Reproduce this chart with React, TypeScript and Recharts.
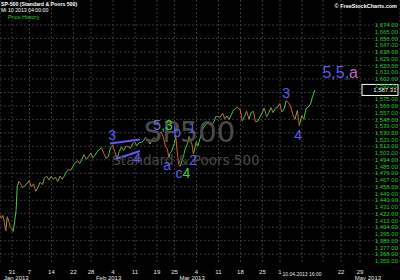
import React from 'react';
import { LineChart, Line, XAxis, YAxis, CartesianGrid, ReferenceDot, ReferenceLine } from 'recharts';

// trading-session index (0 = 26 Dec 2012), with intraday fractions
const times = [
  0.3, 0.6, 0.95, 1.3, 1.6, 1.95, 2.3, 2.6, 2.95, 3.3, 3.7, 3.95,
  4.2, 4.6, 4.95, 5.4, 5.95, 6.4, 6.95, 7.4, 7.95, 8.4, 8.95, 9.4, 9.95,
  10.4, 10.95, 11.4, 11.95, 12.4, 12.95, 13.4, 13.95, 14.4, 14.95,
  15.4, 15.95, 16.4, 16.95, 17.4, 17.95, 18.4, 18.95, 19.4, 19.95,
  20.4, 20.95, 21.4, 21.95, 22.4, 22.95, 23.4, 23.95, 24.4, 24.95,
  25.4, 25.95, 26.4, 26.95, 27.4, 27.95, 28.4, 28.95, 29.4, 29.95,
  30.4, 30.95, 31.4, 31.95, 32.4, 32.95, 33.4, 33.95, 34.4, 34.95,
  35.4, 35.95, 36.4, 36.95, 37.4, 37.95, 38.4, 38.7, 38.95, 39.3, 39.95,
  40.3, 40.6, 40.95, 41.3, 41.95, 42.4, 42.95, 43.3, 43.95, 44.3, 44.95,
  45.3, 45.95, 46.4, 46.95, 47.4, 47.95, 48.4, 48.95, 49.4, 49.95,
  50.4, 50.95, 51.4, 51.95, 52.4, 52.95, 53.4, 53.95, 54.4, 54.95,
  55.4, 55.95, 56.4, 56.95, 57.4, 57.95, 58.4, 58.95, 59.4, 59.95,
  60.4, 60.95, 61.4, 61.95, 62.4, 62.95, 63.4, 63.95, 64.4, 64.95,
  65.4, 65.95, 66.4, 66.95, 67.4, 67.95, 68.4, 68.95, 69.4, 69.95,
  70.4, 70.95, 71.4, 71.95,
];
const prices = [
  1420, 1416, 1419.8, 1410, 1399, 1418.1, 1412, 1405, 1402.4, 1398.5, 1415, 1426.2,
  1458, 1465, 1462.4, 1457, 1459.4, 1462, 1466.5, 1458, 1461.9, 1452, 1457.2, 1464, 1461,
  1470, 1472.1, 1467, 1472, 1468, 1470.7, 1465, 1472.3, 1468, 1472.6,
  1478, 1480.9, 1480, 1486, 1490, 1492.6, 1489, 1494.8, 1501, 1494.8,
  1498, 1503, 1497, 1500.2, 1505, 1507.8, 1510, 1502, 1496, 1498.1,
  1510, 1513.2, 1505, 1495.7, 1505, 1511.3, 1506, 1512.1, 1512, 1509.4,
  1515, 1517.9, 1513, 1517, 1517, 1519.4, 1524, 1520.3, 1515, 1521.4,
  1524, 1519.8, 1528, 1530.9, 1525, 1512, 1508, 1497, 1502.4, 1505, 1515.6,
  1525.5, 1505, 1487.9, 1485.5, 1496.9, 1508, 1516, 1525, 1514.7, 1501.5, 1518.2,
  1512.3, 1525.2, 1535, 1539.8, 1543, 1541.5, 1540, 1544.3, 1552, 1551.2,
  1551, 1556.2, 1549, 1552.5, 1548, 1554.5, 1560, 1563.2, 1564, 1560.7,
  1546, 1552.1, 1559, 1548.3, 1557, 1558.7, 1545, 1545.8, 1551, 1556.9,
  1563, 1551.7, 1556, 1563.8, 1557, 1562.9, 1564, 1569.2, 1558, 1562.2,
  1573, 1570.3, 1566, 1553.7, 1548, 1560, 1539.5, 1553.3, 1548, 1563.1,
  1564, 1568.6, 1578, 1587.3,
];

const weekTicks = [3, 7, 12, 17, 21, 26, 31, 36, 40, 45, 50, 55, 60, 64, 69, 73.8, 77.9, 82.2];
const weekLabels = ['31', '7', '14', '22', '28', '4', '11', '19', '25', '4', '11', '18', '25', '1', '10.04.2013 16:00', '', '22', '29'];
const monthTicks = [4, 25, 44, 84];
const monthLabels = ['Jan 2013', 'Feb 2013', 'Mar 2013', 'May 2013'];

const priceTicks = [
  1359, 1368, 1377, 1386, 1395, 1404, 1413, 1422, 1431, 1440, 1449, 1458, 1467, 1476,
  1485, 1494, 1503, 1512, 1521, 1530, 1539, 1548, 1557, 1566, 1575, 1593, 1602, 1611,
  1620, 1629, 1638, 1647, 1656, 1665, 1674,
];
const gridPrices = [1368, 1386, 1404, 1422, 1440, 1458, 1476, 1494, 1512, 1530, 1548, 1566, 1584, 1602, 1620, 1638, 1656, 1674];
const lastPrice = 1587.31;

const BLUE = '#5c5cee';
const GREEN = '#3fcf3f';
const RED = '#e2572b';
const PINK = '#c264c8';

const waveLabels: { t: number; p: number; size: number; parts: [string, string][] }[] = [
  { t: 25.8, p: 1527, size: 14, parts: [['3', BLUE]] },
  { t: 31.5, p: 1496.5, size: 14, parts: [['4', BLUE]] },
  { t: 37.4, p: 1540.5, size: 14, parts: [['5', '#6b6bd8'], [',3', GREEN]] },
  { t: 40.6, p: 1531, size: 14, parts: [['b', BLUE]] },
  { t: 44.0, p: 1536.5, size: 14, parts: [['1', BLUE]] },
  { t: 38.3, p: 1487, size: 14, parts: [['a', BLUE]] },
  { t: 41.9, p: 1476.4, size: 14, parts: [['c', BLUE], ['4', GREEN]] },
  { t: 44.2, p: 1494, size: 14, parts: [['2', BLUE]] },
  { t: 65.4, p: 1583, size: 14, parts: [['3', BLUE]] },
  { t: 68.1, p: 1527, size: 14, parts: [['4', BLUE]] },
  { t: 77.7, p: 1611, size: 16, parts: [['5,5,', BLUE], ['a', PINK]] },
];
const trendLines: [number, number, number, number][] = [
  [25.3, 1515.8, 32.1, 1521],
  [26.5, 1494.7, 32.1, 1505.8],
];

type Row = { t: number; upA: number | null; upB: number | null; dnA: number | null; dnB: number | null };
const rows: Row[] = times.map((t) => ({ t, upA: null, upB: null, dnA: null, dnB: null }));
(() => {
  const n = prices.length;
  const dir = (i: number) => (prices[i + 1] >= prices[i] ? 'up' : 'dn');
  const counts: Record<string, number> = { up: 0, dn: 0 };
  let i = 0;
  while (i < n - 1) {
    const d = dir(i);
    let j = i;
    while (j < n - 1 && dir(j) === d) j++;
    const key = (d + (counts[d] % 2 === 0 ? 'A' : 'B')) as keyof Row;
    counts[d]++;
    for (let k = i; k <= j; k++) (rows[k] as any)[key] = prices[k];
    i = j;
  }
})();

const fmt = (v: number) =>
  v.toLocaleString('en-US', { minimumFractionDigits: 2, maximumFractionDigits: 2 });

const FONT = 'Liberation Sans, Arial, sans-serif';

const DayTick = (props: any) => {
  const { x, y, payload } = props;
  const idx = weekTicks.indexOf(payload.value);
  const label = idx >= 0 ? weekLabels[idx] : '';
  const special = label.length > 3;
  return (
    <text x={x} y={y + (special ? 11.5 : 10)} textAnchor="middle" fill="#e6e6e6" fontSize={special ? 5 : 6} fontFamily={FONT}>
      {label}
    </text>
  );
};
const MonthTick = (props: any) => {
  const { x, y, payload } = props;
  const idx = monthTicks.indexOf(payload.value);
  return (
    <text x={x} y={y + 6.5} textAnchor="middle" fill="#e6e6e6" fontSize={6} fontFamily={FONT}>
      {idx >= 0 ? monthLabels[idx] : ''}
    </text>
  );
};

const multiLabel = (parts: [string, string][], size: number) => (props: any) => {
  const vb = props.viewBox || {};
  const cx = (vb.x || 0) + (vb.width || 0) / 2;
  const cy = (vb.y || 0) + (vb.height || 0) / 2;
  return (
    <text x={cx} y={cy} textAnchor="middle" dominantBaseline="central" fontSize={size} fontFamily={FONT}>
      {parts.map(([s, c], i) => (
        <tspan key={i} fill={c}>{s}</tspan>
      ))}
    </text>
  );
};
const watermark = (text: string, size: number) => (props: any) => {
  const vb = props.viewBox || {};
  const cx = (vb.x || 0) + (vb.width || 0) / 2;
  const cy = (vb.y || 0) + (vb.height || 0) / 2;
  return (
    <text x={cx} y={cy} textAnchor="middle" fontSize={size} fontFamily="DejaVu Sans, sans-serif" fill="#4a4a4a">
      {text}
    </text>
  );
};
const priceBox = (props: any) => {
  const vb = props.viewBox || {};
  const right = (vb.x || 0) + (vb.width || 0);
  const cy = vb.y || 0;
  return (
    <g>
      <rect x={right - 38} y={cy - 5.5} width={36} height={11} fill="#000" stroke="#ffffff" strokeWidth={1} />
      <text x={right - 3.5} y={cy + 2} textAnchor="end" fontSize={6} fontFamily={FONT} fill="#ffffff">
        {fmt(lastPrice)}
      </text>
    </g>
  );
};

const seriesKeys: [keyof Row, string][] = [
  ['upA', GREEN],
  ['upB', GREEN],
  ['dnA', RED],
  ['dnB', RED],
];

export default function App() {
  return (
    <div style={{ position: 'relative', width: 400, height: 280, background: '#000', overflow: 'hidden' }}>
      <style>{'body{margin:0;background:#000;}'}</style>
      <LineChart width={400} height={280} data={rows} margin={{ top: 0, right: 0, bottom: 0, left: 0 }}>
        <CartesianGrid stroke="#3a3a3a" strokeDasharray="2 2" horizontalValues={gridPrices} />
        <XAxis
          dataKey="t"
          type="number"
          domain={[0.29, 91.3]}
          allowDataOverflow
          ticks={weekTicks}
          interval={0}
          tick={<DayTick />}
          tickLine={false}
          axisLine={false}
          tickSize={0}
          tickMargin={0}
          height={9}
        />
        <XAxis
          xAxisId="m"
          dataKey="t"
          type="number"
          domain={[0.29, 91.3]}
          allowDataOverflow
          ticks={monthTicks}
          interval={0}
          tick={<MonthTick />}
          tickLine={false}
          axisLine={false}
          tickSize={0}
          tickMargin={0}
          height={7}
        />
        <YAxis
          orientation="right"
          mirror
          type="number"
          domain={[1354.9, 1707.4]}
          allowDataOverflow
          ticks={priceTicks}
          interval={0}
          tickFormatter={fmt}
          tick={{ fill: '#22c522', fontSize: 6, fontFamily: FONT }}
          tickLine={false}
          axisLine={false}
          tickSize={0}
          tickMargin={2}
          width={40}
        />
        <ReferenceDot x={43.4} y={1517.8} r={0} fill="none" stroke="none" label={watermark('SP500', 29)} />
        <ReferenceDot x={42.6} y={1487} r={0} fill="none" stroke="none" label={watermark('Standard & Poors 500', 13.5)} />
        {seriesKeys.map(([k, c]) => (
          <Line
            key={k}
            dataKey={k}
            stroke={c}
            strokeWidth={1}
            dot={false}
            activeDot={false}
            isAnimationActive={false}
            connectNulls={false}
          />
        ))}
        {trendLines.map((s, i) => (
          <ReferenceLine
            key={'tl' + i}
            segment={[{ x: s[0], y: s[1] }, { x: s[2], y: s[3] }]}
            stroke={BLUE}
            strokeWidth={2}
          />
        ))}
        {waveLabels.map((w, i) => (
          <ReferenceDot key={'w' + i} x={w.t} y={w.p} r={0} fill="none" stroke="none" label={multiLabel(w.parts, w.size)} />
        ))}
        <ReferenceLine y={lastPrice} stroke="none" label={priceBox} />
      </LineChart>
      <svg width={400} height={24} style={{ position: 'absolute', left: 0, top: 0, pointerEvents: 'none' }}>
        <text x={1} y={6.3} fontSize={5.2} fontFamily={FONT} fill="#ffffff" fontWeight="bold">SP-500 (Standard &amp; Poors 500)</text>
        <text x={1} y={12} fontSize={5.2} fontFamily={FONT} fill="#ffffff">Mi 10 2013 04:00:00</text>
        <text x={8} y={19} fontSize={5.5} fontFamily={FONT} fill="#2fd02f">Price History</text>
        <text x={397} y={8} textAnchor="end" fontSize={5.5} fontFamily={FONT} fill="#ffffff" fontWeight="bold">© FreeStockCharts.com</text>
      </svg>
    </div>
  );
}
